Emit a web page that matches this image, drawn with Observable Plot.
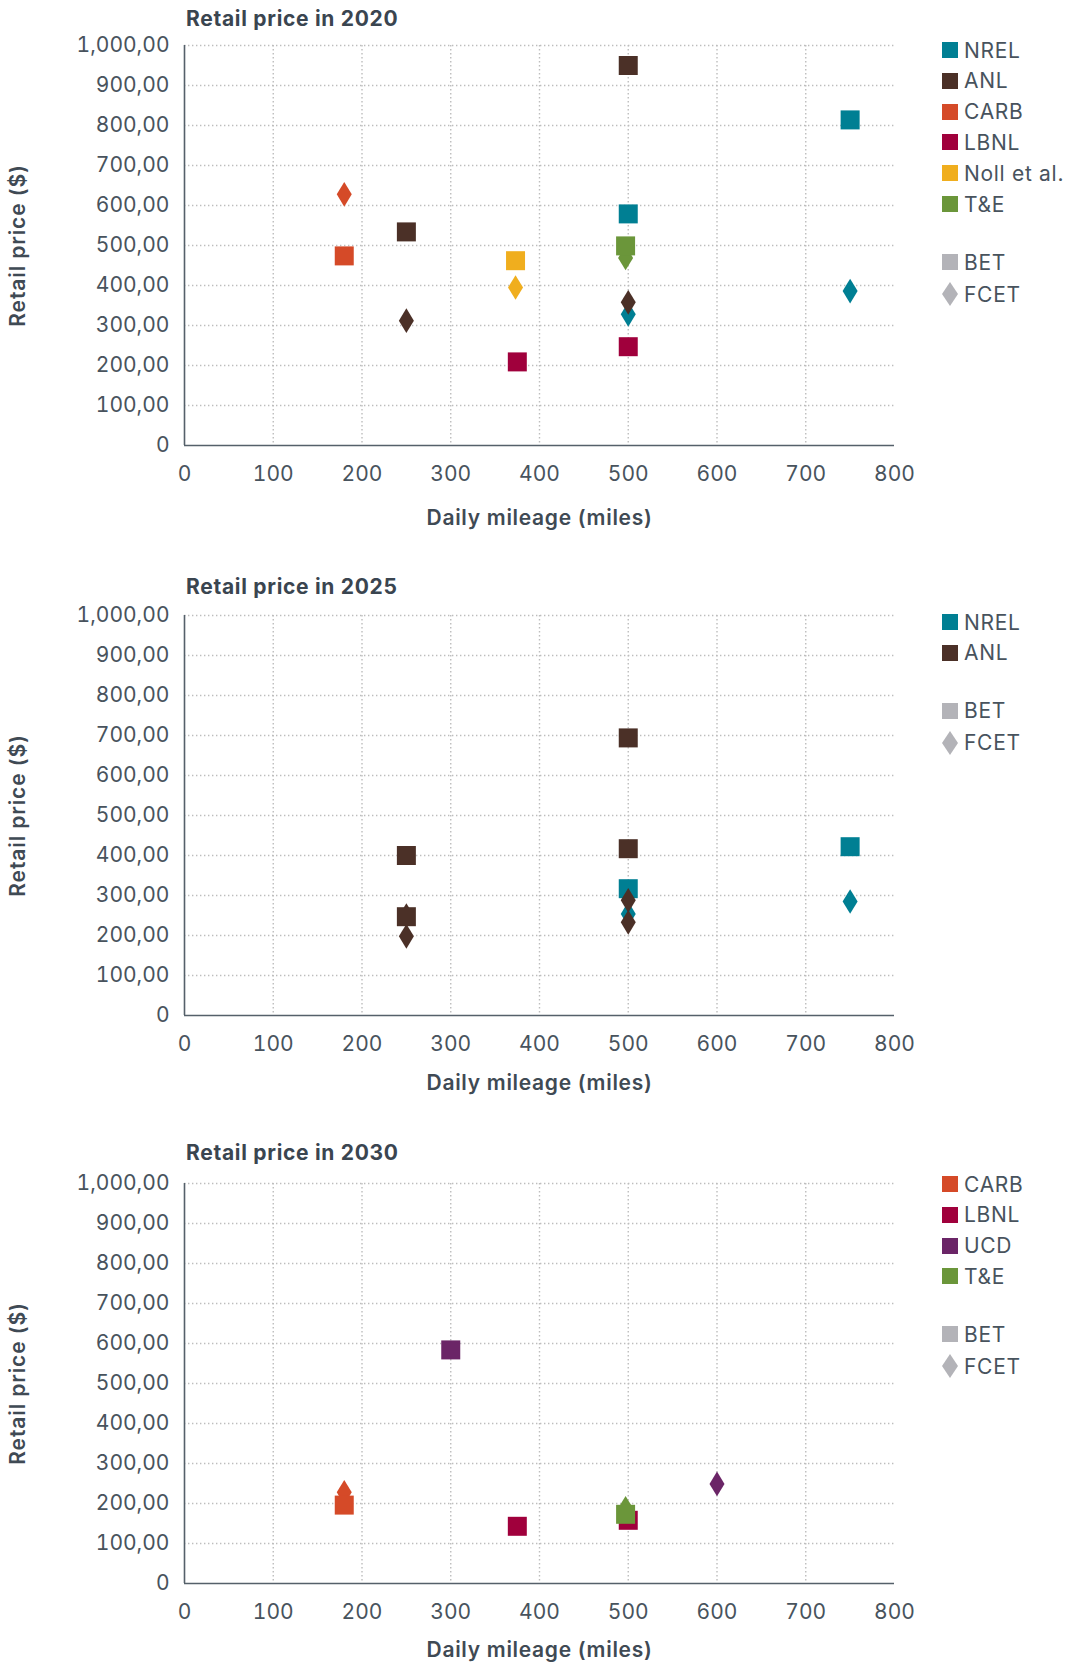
<!DOCTYPE html>
<html>
<head>
<meta charset="utf-8">
<script src="https://cdn.jsdelivr.net/npm/d3@7"></script>
<script src="https://cdn.jsdelivr.net/npm/@observablehq/plot@0.6"></script>
<style>
  body { margin: 0; background: #fff; }
  #root { position: relative; width: 1065px; height: 1664px; font-family: Inter, "Open Sans", sans-serif; overflow: hidden; }
  .chart { position: absolute; left: 0; }
  .title { position: absolute; left: 186px; font-weight: 700; font-size: 21px; letter-spacing: 0.7px; line-height: 22px; color: #3a4550; white-space: nowrap; }
  .item { position: absolute; left: 942px; height: 24px; display: flex; align-items: center; white-space: nowrap; font-size: 21px; letter-spacing: 0.7px; color: #48535d; }
  .item svg { margin-right: 6px; }
  g[aria-label="y-axis label"] text, g[aria-label="x-axis label"] text { font-weight: 600; fill: #3f4a54; font-size: 21px; }
  g[aria-label="y-axis label"] text { letter-spacing: 0.9px; }
  g[aria-label="x-axis label"] text { letter-spacing: 0.7px; }
</style>
</head>
<body>
<div id="root"></div>
<script>
// ---------- data ----------
const sourceNames  = ["NREL", "ANL", "CARB", "LBNL", "Noll et al.", "T&E", "UCD"];
const sourceColors = ["#007f93", "#4b3027", "#d54a28", "#a0003c", "#f0ae1e", "#6b963a", "#6b2567"];
const typeNames = ["BET", "FCET"];

const xTicks = [0, 100, 200, 300, 400, 500, 600, 700, 800];
const yTicks = [0, 100, 200, 300, 400, 500, 600, 700, 800, 900, 1000];
const xGridTicks = [100, 200, 300, 400, 500, 600, 700];
const yGridTicks = [100, 200, 300, 400, 500, 600, 700, 800, 900, 1000];

// 2020
const legend2020 = ["NREL", "ANL", "CARB", "LBNL", "Noll et al.", "T&E"];
const source2020 = ["NREL", "NREL", "NREL", "NREL", "ANL", "ANL", "ANL", "ANL", "CARB", "CARB", "LBNL", "LBNL", "Noll et al.", "Noll et al.", "T&E", "T&E"];
const type2020   = ["FCET", "FCET", "BET", "BET", "FCET", "FCET", "BET", "BET", "FCET", "BET", "BET", "BET", "FCET", "BET", "FCET", "BET"];
const miles2020  = [500, 750, 500, 750, 250, 500, 250, 500, 180, 180, 375, 500, 373, 373, 497, 497];
const price2020  = [328, 386, 579, 814, 312, 358, 534, 950, 628, 474, 209, 247, 395, 462, 469, 499];

// 2025
const legend2025 = ["NREL", "ANL"];
const source2025 = ["NREL", "NREL", "NREL", "NREL", "ANL", "ANL", "ANL", "ANL", "ANL", "ANL", "ANL", "ANL"];
const type2025   = ["FCET", "FCET", "BET", "BET", "FCET", "FCET", "FCET", "FCET", "BET", "BET", "BET", "BET"];
const miles2025  = [500, 750, 500, 750, 250, 250, 500, 500, 250, 250, 500, 500];
const price2025  = [254, 285, 317, 422, 250, 198, 288, 233, 400, 247, 694, 417];

// 2030
const legend2030 = ["CARB", "LBNL", "UCD", "T&E"];
const source2030 = ["CARB", "CARB", "LBNL", "LBNL", "UCD", "UCD", "T&E", "T&E"];
const type2030   = ["FCET", "BET", "BET", "BET", "FCET", "BET", "FCET", "BET"];
const miles2030  = [180, 180, 375, 500, 600, 300, 497, 497];
const price2030  = [228, 196, 143, 158, 249, 584, 188, 173];

// ---------- layout / style ----------
const layout = [
  {title: "Retail price in 2020", legend: legend2020, src: source2020, type: type2020, miles: miles2020, price: price2020,
   top: 0, height: 535, marginBottom: 90, titleCenter: 19, xLabelOffset: 82, legendTop: 50},
  {title: "Retail price in 2025", legend: legend2025, src: source2025, type: type2025, miles: miles2025, price: price2025,
   top: 570, height: 535, marginBottom: 90, titleCenter: 587, xLabelOffset: 77, legendTop: 622},
  {title: "Retail price in 2030", legend: legend2030, src: source2030, type: type2030, miles: miles2030, price: price2030,
   top: 1138, height: 526, marginBottom: 81, titleCenter: 1153, xLabelOffset: 76, legendTop: 1184}
];

const squareSym = {draw(ctx, size) {
  const r = Math.sqrt(size / Math.PI);
  ctx.moveTo(-r, -r); ctx.lineTo(r, -r); ctx.lineTo(r, r); ctx.lineTo(-r, r); ctx.closePath();
}};
const diamondSym = {draw(ctx, size) {
  const r = Math.sqrt(size / Math.PI);
  const w = r * 0.79, h = r * 1.3;
  ctx.moveTo(0, -h); ctx.lineTo(w, 0); ctx.lineTo(0, h); ctx.lineTo(-w, 0); ctx.closePath();
}};

const fmt = d => d === 0 ? "0" : d3.format(",")(d) + ",00";
const gridStyle = {stroke: "#bdbdbd", strokeOpacity: 1, strokeWidth: 1.4, strokeDasharray: "1.4 2.6"};
const root = document.getElementById("root");

function colorOf(s) { return sourceColors[sourceNames.indexOf(s)]; }

function addItem(label, color, shape, center) {
  const div = document.createElement("div");
  div.className = "item";
  div.style.top = (center - 12) + "px";
  const ns = "http://www.w3.org/2000/svg";
  const svg = document.createElementNS(ns, "svg");
  svg.setAttribute("width", 16); svg.setAttribute("height", 24);
  const el = document.createElementNS(ns, shape === "square" ? "rect" : "polygon");
  if (shape === "square") { el.setAttribute("x", 0); el.setAttribute("y", 4); el.setAttribute("width", 16); el.setAttribute("height", 16); }
  else el.setAttribute("points", "8,0 16,12 8,24 0,12");
  el.setAttribute("fill", color);
  svg.appendChild(el);
  div.appendChild(svg);
  const span = document.createElement("span");
  span.textContent = label;
  div.appendChild(span);
  root.appendChild(div);
}

for (const cfg of layout) {
  const data = cfg.src.map((s, i) => ({src: s, type: cfg.type[i], miles: cfg.miles[i], price: cfg.price[i]}));
  const marks = [
    Plot.gridX(xGridTicks, gridStyle),
    Plot.gridY(yGridTicks, gridStyle),
    Plot.axisX(xTicks, {tickSize: 0, tickPadding: 21, fontSize: 21, label: "Daily mileage (miles)", labelAnchor: "center", labelArrow: "none", labelOffset: cfg.xLabelOffset - 3}),
    Plot.axisY(yTicks, {tickSize: 0, tickPadding: 15, fontSize: 21, tickFormat: fmt, label: "Retail price ($)", labelAnchor: "center", labelArrow: "none", labelOffset: 174}),
    Plot.ruleX([0], {stroke: "#55606a", strokeWidth: 1.6}),
    Plot.ruleY([0], {stroke: "#55606a", strokeWidth: 1.6})
  ];
  for (const s of cfg.legend) {
    for (const t of ["FCET", "BET"]) {
      const sub = data.filter(d => d.src === s && d.type === t);
      if (sub.length) marks.push(Plot.dot(sub, {x: "miles", y: "price", fill: "src", r: 9.5, symbol: t === "BET" ? squareSym : diamondSym}));
    }
  }
  const chart = Plot.plot({
    width: 1065,
    height: cfg.height,
    marginTop: 45,
    marginBottom: cfg.marginBottom,
    marginLeft: 184,
    marginRight: 171,
    x: {domain: [0, 800]},
    y: {domain: [0, 1000]},
    color: {domain: sourceNames, range: sourceColors},
    style: {fontFamily: "Inter, 'Open Sans', sans-serif", fontSize: "21px", color: "#48535d", background: "transparent", overflow: "visible"},
    marks
  });
  const wrap = document.createElement("div");
  wrap.className = "chart";
  wrap.style.top = cfg.top + "px";
  wrap.appendChild(chart);
  root.appendChild(wrap);

  const title = document.createElement("div");
  title.className = "title";
  title.textContent = cfg.title;
  title.style.top = (cfg.titleCenter - 11) + "px";
  root.appendChild(title);

  let y = cfg.legendTop;
  cfg.legend.forEach(s => { addItem(s, colorOf(s), "square", y); y += 30.8; });
  y = y - 30.8 + 58;
  addItem(typeNames[0], "#b3b3b8", "square", y);
  addItem(typeNames[1], "#b3b3b8", "diamond", y + 32);
}
</script>
</body>
</html>
